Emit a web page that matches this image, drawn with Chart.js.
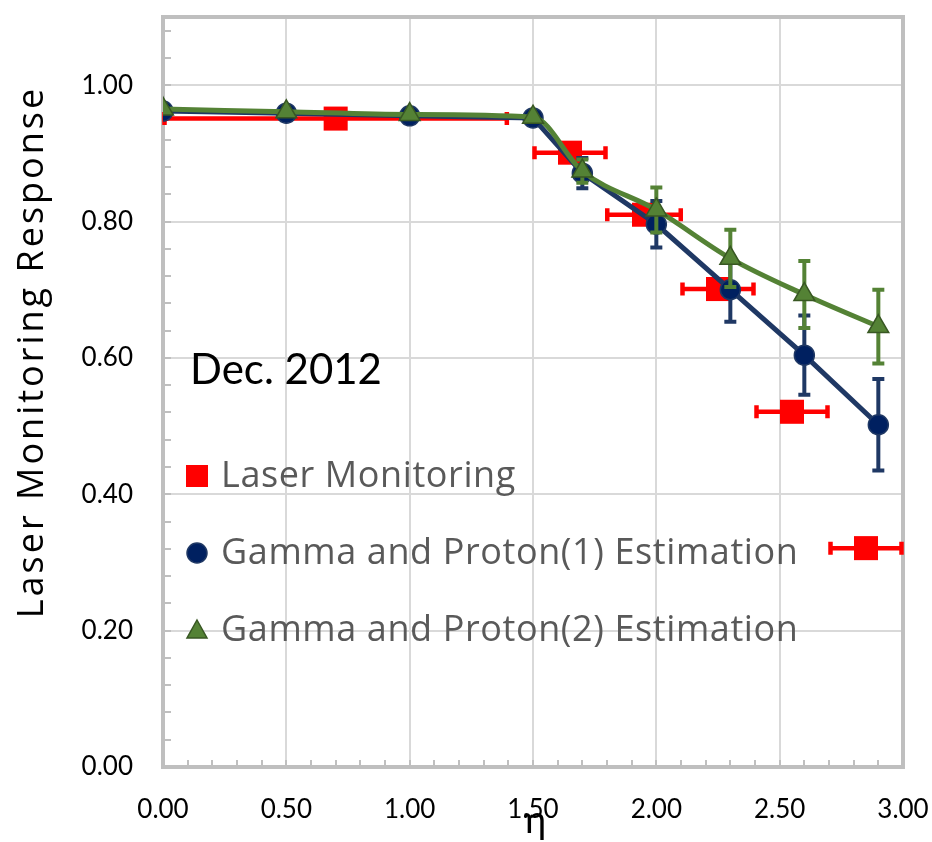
<!DOCTYPE html>
<html>
<head>
<meta charset="utf-8">
<script src="https://cdn.jsdelivr.net/npm/chart.js@4/dist/chart.umd.min.js"></script>
<style>
  html, body { margin: 0; padding: 0; background: #ffffff; }
  #wrap { width: 932px; height: 842px; }
</style>
</head>
<body>
<div id="wrap"><canvas id="c" width="932" height="842"></canvas></div>
<script>
// Laser monitoring measurements (η bins with horizontal half-widths)
const laserEta    = [0.70, 1.65, 1.95, 2.25, 2.55, 2.85];
const laserResp   = [0.951, 0.901, 0.810, 0.701, 0.521, 0.321];
const laserEtaErr = [0.70, 0.15, 0.155, 0.15, 0.15, 0.15];

// Gamma and proton estimation, method (1)
const est1Eta  = [0.0, 0.5, 1.0, 1.5, 1.7, 2.0, 2.3, 2.6, 2.9];
const est1Resp = [0.962, 0.959, 0.955, 0.952, 0.871, 0.796, 0.700, 0.604, 0.502];
const est1Err  = [0.0, 0.0, 0.0, 0.004, 0.025, 0.037, 0.050, 0.061, 0.070];

// Gamma and proton estimation, method (2)
const est2Eta  = [0.0, 0.5, 1.0, 1.5, 1.7, 2.0, 2.3, 2.6, 2.9];
const est2Resp = [0.965, 0.961, 0.957, 0.953, 0.874, 0.817, 0.746, 0.693, 0.646];
const est2Err  = [0.0, 0.0, 0.0, 0.0, 0.020, 0.036, 0.045, 0.052, 0.057];

// Axis ticks
const xTickValues = [0.0, 0.5, 1.0, 1.5, 2.0, 2.5, 3.0];
const yTickValues = [0.0, 0.2, 0.4, 0.6, 0.8, 1.0];

const seriesNames = ['Laser Monitoring', 'Gamma and Proton(1) Estimation', 'Gamma and Proton(2) Estimation'];
const noteText = 'Dec. 2012';
const xTitle = 'η';
const yTitle = 'Laser Monitoring Response';

const RED = '#ff0000';
const NAVY_LINE = '#1f3864';
const NAVY_FILL = '#002060';
const GREEN = '#548235';
const GREEN_EDGE = '#385723';
const AXIS_GRAY = '#bfbfbf';
const GRID_GRAY = '#d9d9d9';
const TICK_FONT = 'Lato, "Open Sans", sans-serif';
const LABEL_FONT = '"Open Sans", Lato, sans-serif';

const toXY = (xs, ys) => xs.map((x, i) => ({ x: x, y: ys[i] }));

// Frame, inward minor ticks
const framePlugin = {
  id: 'frame',
  beforeDatasetsDraw(chart) {
    const { ctx, chartArea: a, scales: { x, y } } = chart;
    ctx.save();
    ctx.strokeStyle = AXIS_GRAY;
    ctx.lineWidth = 2;
    ctx.beginPath();
    for (let k = 1; k < 30; k++) {
      const px = Math.round(x.getPixelForValue(k / 10));
      ctx.moveTo(px, a.bottom); ctx.lineTo(px, a.bottom - 7);
    }
    for (let k = 1; k < 28; k++) {
      const py = Math.round(y.getPixelForValue(k * 0.04));
      ctx.moveTo(a.left, py); ctx.lineTo(a.left + 8, py);
    }
    ctx.stroke();
    ctx.lineWidth = 4;
    ctx.strokeRect(a.left, a.top, a.right - a.left, a.bottom - a.top);
    ctx.restore();
  }
};

// Error bars drawn under each dataset's own line and markers
const errorBarPlugin = {
  id: 'errorBars',
  beforeDatasetDraw(chart, args) {
    const ds = chart.data.datasets[args.index];
    const { ctx, scales: { x, y } } = chart;
    ctx.save();
    ctx.strokeStyle = ds.errColor;
    ctx.lineWidth = ds.errWidth;
    ctx.lineCap = 'butt';
    ds.data.forEach((p, i) => {
      const px = x.getPixelForValue(p.x), py = y.getPixelForValue(p.y);
      if (ds.errX && ds.errX[i] > 0) {
        const l = x.getPixelForValue(p.x - ds.errX[i]);
        const r = x.getPixelForValue(p.x + ds.errX[i]);
        ctx.beginPath();
        ctx.moveTo(l, py); ctx.lineTo(r, py);
        ctx.moveTo(l + 1.5, py - 6.5); ctx.lineTo(l + 1.5, py + 6.5);
        ctx.moveTo(r - 1.5, py - 6.5); ctx.lineTo(r - 1.5, py + 6.5);
        ctx.stroke();
      }
      if (ds.errY && ds.errY[i] > 0) {
        const t = y.getPixelForValue(p.y + ds.errY[i]);
        const b = y.getPixelForValue(p.y - ds.errY[i]);
        ctx.beginPath();
        ctx.moveTo(px, t); ctx.lineTo(px, b);
        ctx.moveTo(px - 6, t + 2); ctx.lineTo(px + 6, t + 2);
        ctx.moveTo(px - 6, b - 2); ctx.lineTo(px + 6, b - 2);
        ctx.stroke();
      }
    });
    ctx.restore();
  }
};

// Axis titles, note and in-plot legend
const textPlugin = {
  id: 'texts',
  afterDraw(chart) {
    const { ctx, chartArea: a } = chart;
    ctx.save();
    ctx.fillStyle = '#000000';
    ctx.textBaseline = 'alphabetic';

    ctx.font = '42px ' + TICK_FONT;
    ctx.textAlign = 'left';
    ctx.fillText(noteText, 190, 384);

    ctx.font = '38px ' + TICK_FONT;
    ctx.textAlign = 'center';
    ctx.fillText(xTitle, (a.left + a.right) / 2 + 2, 833);

    ctx.save();
    ctx.translate(43, 352);
    ctx.rotate(-Math.PI / 2);
    ctx.font = '36px ' + LABEL_FONT;
    ctx.letterSpacing = '3px';
    ctx.fillText(yTitle, 0, 0);
    ctx.restore();

    // legend
    const rows = [476, 553, 630];
    const lx = 197;
    ctx.font = '36px ' + LABEL_FONT;
    ctx.letterSpacing = '0.6px';
    ctx.textAlign = 'left';
    ctx.textBaseline = 'middle';
    chart.data.datasets.forEach((ds, i) => {
      const cy = rows[i];
      ctx.fillStyle = ds.pointBackgroundColor;
      ctx.strokeStyle = ds.pointBorderColor;
      ctx.lineWidth = 1.5;
      ctx.beginPath();
      if (ds.pointStyle === 'rect') {
        ctx.rect(lx - 11, cy - 11, 22, 22);
        ctx.fill();
      } else if (ds.pointStyle === 'circle') {
        ctx.arc(lx, cy, 10, 0, Math.PI * 2);
        ctx.fill(); ctx.stroke();
      } else {
        ctx.moveTo(lx, cy - 10); ctx.lineTo(lx + 10, cy + 8); ctx.lineTo(lx - 10, cy + 8); ctx.closePath();
        ctx.fill(); ctx.stroke();
      }
      ctx.fillStyle = '#595959';
      ctx.fillText(seriesNames[i], 221, cy + 1);
    });
    ctx.restore();
  }
};

const noPad = s => { s.paddingTop = 0; s.paddingBottom = 0; s.paddingLeft = 0; s.paddingRight = 0; };

new Chart(document.getElementById('c'), {
  type: 'scatter',
  data: {
    datasets: [
      {
        label: seriesNames[0],
        data: toXY(laserEta, laserResp),
        errX: laserEtaErr, errColor: RED, errWidth: 4.5,
        showLine: false,
        pointStyle: 'rect', pointRadius: 17, pointHoverRadius: 17,
        pointBackgroundColor: RED, pointBorderColor: RED, pointBorderWidth: 0,
        order: 3
      },
      {
        label: seriesNames[1],
        data: toXY(est1Eta, est1Resp),
        errY: est1Err, errColor: NAVY_LINE, errWidth: 4,
        showLine: true, borderColor: NAVY_LINE, borderWidth: 5, tension: 0,
        pointStyle: 'circle', pointRadius: 10, pointHoverRadius: 10,
        pointBackgroundColor: NAVY_FILL, pointBorderColor: NAVY_LINE, pointBorderWidth: 1.5,
        order: 2
      },
      {
        label: seriesNames[2],
        data: toXY(est2Eta, est2Resp),
        errY: est2Err, errColor: GREEN, errWidth: 4,
        showLine: true, borderColor: GREEN, borderWidth: 5, cubicInterpolationMode: 'monotone',
        pointStyle: 'triangle', pointRadius: 12, pointHoverRadius: 12,
        pointBackgroundColor: GREEN, pointBorderColor: GREEN_EDGE, pointBorderWidth: 1.5,
        order: 1
      }
    ]
  },
  options: {
    responsive: false,
    animation: false,
    events: [],
    layout: { padding: { left: 0, right: 29, top: 13, bottom: 0 } },
    plugins: { legend: { display: false }, tooltip: { enabled: false } },
    scales: {
      x: {
        type: 'linear', min: 0, max: 3,
        afterBuildTicks: s => { s.ticks = xTickValues.map(v => ({ value: v })); },
        afterFit: s => { s.height = 75; noPad(s); },
        grid: { color: GRID_GRAY, lineWidth: 2, drawTicks: false },
        border: { display: false },
        ticks: { padding: 27, color: '#000000', font: { family: TICK_FONT, size: 26 },
                 callback: v => Number(v).toFixed(2), maxRotation: 0 }
      },
      y: {
        type: 'linear', min: 0, max: 1.1,
        afterBuildTicks: s => { s.ticks = yTickValues.map(v => ({ value: v })); },
        afterFit: s => { s.width = 163; noPad(s); },
        grid: { color: GRID_GRAY, lineWidth: 2, drawTicks: false },
        border: { display: false },
        ticks: { padding: 30, color: '#000000', font: { family: TICK_FONT, size: 26 },
                 callback: v => Number(v).toFixed(2) }
      }
    }
  },
  plugins: [framePlugin, errorBarPlugin, textPlugin]
});
</script>
</body>
</html>
